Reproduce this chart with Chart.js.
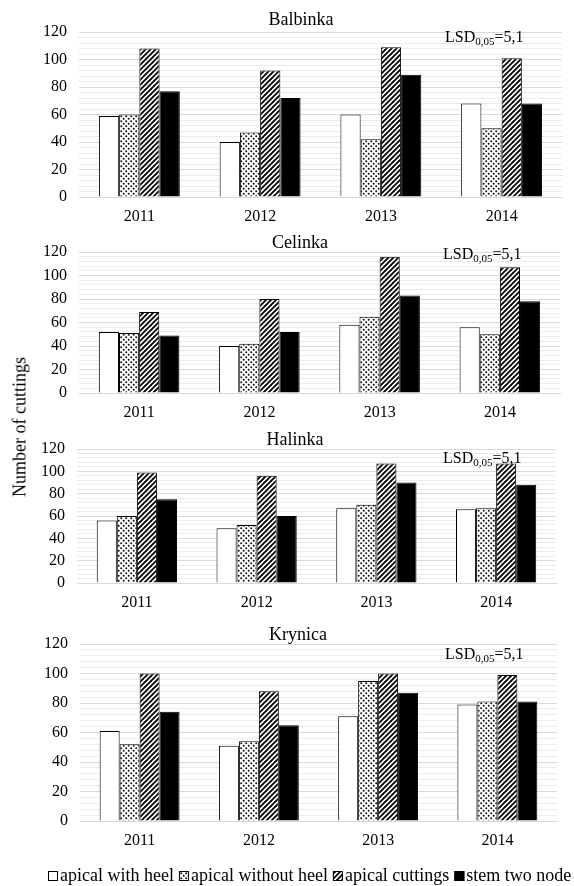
<!DOCTYPE html>
<html>
<head>
<meta charset="utf-8">
<script src="https://cdn.jsdelivr.net/npm/chart.js@4.4.1/dist/chart.umd.min.js"></script>
<style>
  body { margin: 0; background: #fff; }
  #page { position: relative; width: 574px; height: 886px; overflow: hidden; }
  .panel { position: absolute; left: 0; }
  #yTitle {
    position: absolute; left: 20px; top: 427px;
    transform: translate(-50%, -50%) rotate(-90deg);
    font: 18px "Liberation Serif", serif; color: #000; white-space: nowrap;
  }
</style>
</head>
<body>
<div id="page">
  <canvas id="c0" class="panel" style="top:0px" width="574" height="226"></canvas>
  <canvas id="c1" class="panel" style="top:226px" width="574" height="196"></canvas>
  <canvas id="c2" class="panel" style="top:422px" width="574" height="190"></canvas>
  <canvas id="c3" class="panel" style="top:612px" width="574" height="274"></canvas>
  <div id="yTitle">Number of cuttings</div>
</div>
<script>
const years = ['2011', '2012', '2013', '2014'];
const cuttingTypes = ['apical with heel', 'apical without heel', 'apical cuttings', 'stem two node'];
const lsdValue = '5,1';

// one row per cutting type, values for 2011..2014
const balbinka = [
    [59, 40, 60, 68],
    [60, 47, 42, 50],
    [108, 92, 109, 101],
    [77, 72, 89, 68]
];
const celinka = [
    [52, 40, 58, 56],
    [51, 42, 65, 50],
    [69, 80, 116, 107],
    [49, 52, 83, 78]
];
const halinka = [
    [56, 49, 67, 66],
    [60, 52, 70, 67],
    [99, 96, 107, 107],
    [75, 60, 90, 88]
];
const krynica = [
    [61, 51, 71, 79],
    [52, 54, 95, 81],
    [100, 88, 100, 99],
    [74, 65, 87, 81]
];

const serif = '"Liberation Serif", "Times New Roman", serif';

function tile(size, draw) {
    const c = document.createElement('canvas');
    c.width = size; c.height = size;
    const g = c.getContext('2d');
    g.fillStyle = '#fff';
    g.fillRect(0, 0, size, size);
    draw(g, size);
    return g.createPattern(c, 'repeat');
}

const dots = tile(5, (g) => {
    g.fillStyle = '#111';
    g.beginPath(); g.arc(1.2, 1.2, 1, 0, Math.PI * 2); g.fill();
    g.beginPath(); g.arc(3.7, 3.7, 1, 0, Math.PI * 2); g.fill();
});
const hatch = tile(5, (g, s) => {
    g.strokeStyle = '#000';
    g.lineWidth = 1.9;
    g.beginPath();
    g.moveTo(0, s); g.lineTo(s, 0);
    g.moveTo(-1, 1); g.lineTo(1, -1);
    g.moveTo(s - 1, s + 1); g.lineTo(s + 1, s - 1);
    g.stroke();
});
const fills = ['#ffffff', dots, hatch, '#000000'];

// LSD note, drawn under the bars
const lsdPlugin = {
    id: 'lsd',
    beforeDatasetsDraw(chart, args, opts) {
        const ctx = chart.ctx;
        ctx.save();
        ctx.fillStyle = '#000';
        ctx.textBaseline = 'middle';
        ctx.textAlign = 'left';
        let x = opts.x;
        ctx.font = '16px ' + serif;
        ctx.fillText('LSD', x, opts.y);
        x += ctx.measureText('LSD').width;
        ctx.font = '11px ' + serif;
        ctx.fillText('0,05', x, opts.y + 4);
        x += ctx.measureText('0,05').width;
        ctx.font = '16px ' + serif;
        ctx.fillText('=' + lsdValue, x, opts.y);
        ctx.restore();
    }
};

// legend under the last panel
const legendPlugin = {
    id: 'cuttingLegend',
    afterDraw(chart, args, opts) {
        if (!opts.show) return;
        const ctx = chart.ctx;
        ctx.save();
        ctx.font = '18px ' + serif;
        ctx.textBaseline = 'middle';
        let x = opts.x;
        const y = opts.y;
        chart.data.datasets.forEach(ds => {
            ctx.fillStyle = ds.backgroundColor;
            ctx.fillRect(x, y - 5, 10, 10);
            ctx.strokeStyle = '#000';
            ctx.lineWidth = 1;
            ctx.strokeRect(x + 0.5, y - 4.5, 9, 9);
            x += 12;
            ctx.fillStyle = '#000';
            ctx.fillText(ds.label, x, y);
            x += ctx.measureText(ds.label).width + 5;
        });
        ctx.restore();
    }
};

function makeChart(id, title, rows, p) {
    new Chart(document.getElementById(id), {
        type: 'bar',
        data: {
            labels: years,
            datasets: rows.map((vals, i) => ({
                label: cuttingTypes[i],
                data: vals,
                backgroundColor: fills[i],
                borderColor: '#000',
                borderWidth: 1,
                categoryPercentage: 0.67,
                barPercentage: 1
            }))
        },
        options: {
            responsive: false,
            animation: false,
            layout: { padding: { left: p.left, right: p.right, top: 0, bottom: p.bottom } },
            plugins: {
                legend: { display: false },
                tooltip: { enabled: false },
                title: {
                    display: true,
                    text: title,
                    color: '#000',
                    font: { family: serif, size: 18, weight: 'normal', lineHeight: 1 },
                    padding: { top: p.titleTop, bottom: p.titleBottom }
                },
                lsd: { x: p.lsdX, y: p.lsdY },
                cuttingLegend: { show: !!p.legendY, x: 48, y: p.legendY }
            },
            scales: {
                x: {
                    afterFit: function(scale) { scale.height = 29; },
                    grid: { display: false, drawTicks: false },
                    border: { color: '#d9d9d9' },
                    ticks: { color: '#000', font: { family: serif, size: 16 }, padding: 10 }
                },
                y: {
                    min: 0,
                    max: 120,
                    afterFit: function(scale) { scale.width = p.yWidth; },
                    border: { display: false },
                    grid: {
                        drawTicks: false,
                        color: c => (c.tick && c.tick.value % 20 === 0) ? '#d9d9d9' : '#ececec'
                    },
                    ticks: {
                        stepSize: 4,
                        autoSkip: false,
                        padding: 12,
                        color: '#000',
                        font: { family: serif, size: 16 },
                        callback: v => v % 20 === 0 ? v : ''
                    }
                }
            }
        },
        plugins: [lsdPlugin, legendPlugin]
    });
}

makeChart('c0', 'Balbinka', balbinka, { left: 40, right: 12, bottom: 0, yWidth: 39, titleTop: 11, titleBottom: 3, lsdX: 445, lsdY: 38 });
makeChart('c1', 'Celinka', celinka, { left: 40, right: 14, bottom: 0, yWidth: 39, titleTop: 8, titleBottom: 0, lsdX: 443, lsdY: 29 });
makeChart('c2', 'Halinka', halinka, { left: 34, right: 18, bottom: 0, yWidth: 43, titleTop: 9, titleBottom: 0, lsdX: 443, lsdY: 37 });
makeChart('c3', 'Krynica', krynica, { left: 39, right: 17, bottom: 36, yWidth: 41, titleTop: 14, titleBottom: 0, lsdX: 445, lsdY: 43, legendY: 264 });
</script>
</body>
</html>
